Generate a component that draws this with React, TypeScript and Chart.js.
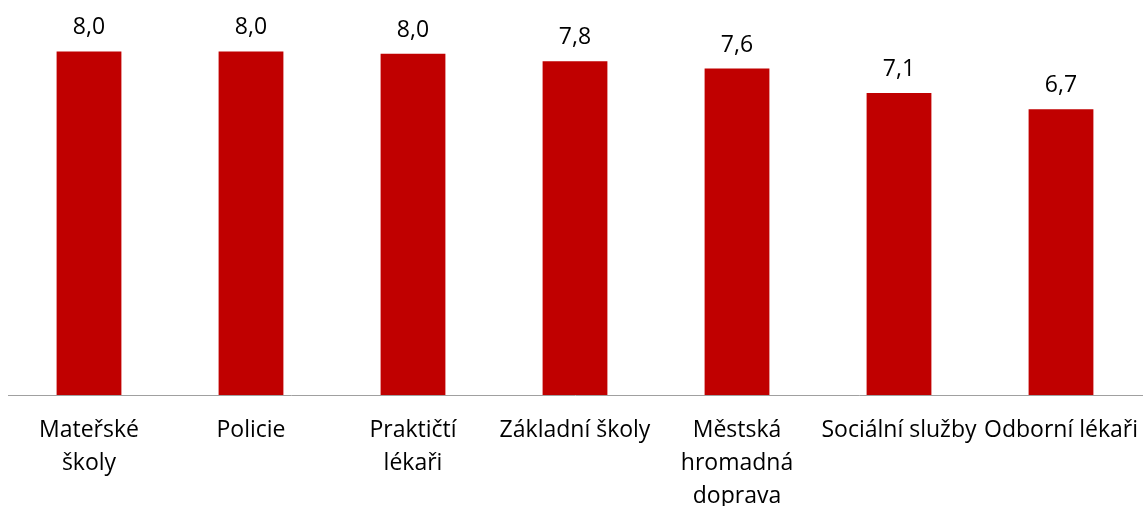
import React, { useEffect, useRef } from "react";
import { Chart, registerables } from "chart.js";

Chart.register(...registerables);

const categories: (string | string[])[] = [
  ["Mateřské", "školy"],
  "Policie",
  ["Praktičtí", "lékaři"],
  "Základní školy",
  ["Městská", "hromadná", "doprava"],
  "Sociální služby",
  "Odborní lékaři",
];
const values: number[] = [8.03, 8.03, 7.98, 7.8, 7.63, 7.06, 6.68];

const FONT = "'Open Sans', 'Noto Sans', sans-serif";

const labelPlugin = {
  id: "barValueLabels",
  afterDatasetsDraw(chart: any) {
    const ctx = chart.ctx;
    const meta = chart.getDatasetMeta(0);
    ctx.save();
    ctx.font = `23px ${FONT}`;
    ctx.fillStyle = "#000000";
    ctx.textAlign = "center";
    ctx.textBaseline = "alphabetic";
    meta.data.forEach((bar: any, i: number) => {
      const txt = values[i].toFixed(1).replace(".", ",");
      ctx.fillText(txt, bar.x, bar.y - 17);
    });
    ctx.restore();
  },
};

export default function App() {
  const ref = useRef<HTMLCanvasElement | null>(null);
  useEffect(() => {
    if (!ref.current) return;
    const chart = new Chart(ref.current, {
      type: "bar",
      data: {
        labels: categories,
        datasets: [
          {
            data: values,
            backgroundColor: "#C00000",
            borderWidth: 0,
            categoryPercentage: 1,
            barPercentage: 0.4,
          },
        ],
      },
      options: {
        animation: false,
        responsive: false,
        maintainAspectRatio: false,
        layout: { padding: { left: 8, right: 3, top: 10, bottom: 0 } },
        plugins: {
          legend: { display: false },
          tooltip: { enabled: false },
        },
        scales: {
          x: {
            grid: { display: false, drawTicks: false },
            border: { display: true, color: "#a0a0a0", width: 1 },
            ticks: {
              color: "#000000",
              font: { family: FONT, size: 23, lineHeight: "33px" as any },
              padding: 19,
              maxRotation: 0,
              minRotation: 0,
              autoSkip: false,
            },
            afterFit(scale: any) {
              scale.height = 111;
              scale.paddingLeft = 0;
              scale.paddingRight = 0;
            },
          },
          y: {
            display: false,
            min: 0,
            max: 9,
            grid: { display: false },
          },
        },
      },
      plugins: [labelPlugin],
    });
    return () => chart.destroy();
  }, []);
  return (
    <div style={{ position: "fixed", left: 0, top: 0, width: 1145, height: 506, background: "#ffffff" }}>
      <canvas ref={ref} width={1145} height={506} style={{ display: "block" }} />
    </div>
  );
}
